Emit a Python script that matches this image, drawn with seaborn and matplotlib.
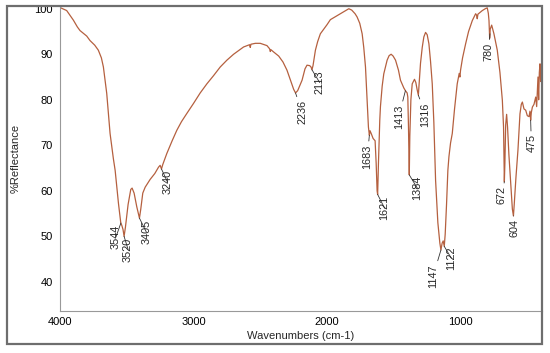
import numpy as np
import pandas as pd
import matplotlib
matplotlib.use("Agg")
import matplotlib.pyplot as plt
from matplotlib.patches import Rectangle
import seaborn as sns

# ---- data ----
wavenumber = [4000, 3995, 3950, 3900, 3870, 3850, 3800, 3775, 3740, 3713, 3690, 3675,
              3650, 3625, 3600, 3587, 3562, 3545, 3537, 3528, 3520, 3510, 3490, 3470,
              3460, 3445, 3425, 3405, 3395, 3380, 3362, 3325, 3290, 3262, 3250, 3240,
              3230, 3200, 3160, 3125, 3090, 3050, 3000, 2950, 2900, 2850, 2800, 2750,
              2700, 2625, 2580, 2575, 2570, 2537, 2500, 2450, 2430, 2425, 2420, 2400,
              2362, 2330, 2300, 2270, 2250, 2236, 2220, 2187, 2165, 2150, 2130, 2120,
              2113, 2105, 2087, 2070, 2050, 2000, 1975, 1900, 1860, 1837, 1815, 1790,
              1775, 1755, 1737, 1725, 1712, 1700, 1690, 1683, 1678, 1668, 1655, 1640,
              1632, 1625, 1621, 1615, 1605, 1600, 1587, 1575, 1550, 1535, 1520, 1505,
              1487, 1465, 1450, 1425, 1413, 1400, 1395, 1390, 1384, 1380, 1372, 1362,
              1345, 1335, 1325, 1316, 1310, 1300, 1287, 1275, 1262, 1250, 1237, 1225,
              1212, 1200, 1187, 1170, 1155, 1147, 1138, 1130, 1122, 1115, 1105, 1095,
              1087, 1075, 1062, 1045, 1025, 1010, 1005, 1000, 985, 962, 940, 912,
              887, 880, 875, 870, 837, 815, 800, 792, 787, 782, 778, 767,
              750, 725, 705, 687, 678, 672, 668, 662, 655, 648, 638, 625,
              612, 604, 598, 585, 570, 555, 545, 537, 525, 512, 500, 487,
              480, 475, 470, 462, 450, 437, 430, 425, 420, 415, 410, 405,
              400, 395, 390]
reflectance = [100.3, 100.2, 99.6, 97.5, 96.0, 95.2, 94.0, 93.0, 92.0, 90.9, 89.2, 87.2,
               81.4, 72.6, 67.0, 64.5, 57.2, 53.0, 52.4, 51.5, 50.0, 52.0, 57.0, 60.3,
               60.6, 59.5, 56.5, 54.0, 56.0, 59.5, 60.8, 62.5, 63.8, 65.2, 65.6, 64.8,
               65.8, 68.2, 71.0, 73.3, 75.2, 77.0, 79.2, 81.5, 83.5, 85.3, 87.2, 88.7,
               90.0, 91.6, 92.1, 91.5, 92.2, 92.4, 92.4, 91.9, 91.2, 90.6, 91.0, 90.5,
               89.6, 88.3, 86.5, 84.0, 82.3, 81.5, 82.0, 84.3, 86.8, 87.6, 87.5, 87.2,
               86.6, 87.5, 90.9, 92.8, 94.5, 96.5, 97.6, 98.9, 99.6, 100.0, 99.7, 98.9,
               98.2, 96.8, 94.5, 91.5, 87.2, 79.9, 74.0, 72.2, 73.2, 72.5, 71.5, 71.0,
               66.0, 60.0, 59.2, 66.0, 75.5, 78.5, 83.0, 85.7, 88.7, 89.7, 90.0, 89.6,
               88.7, 86.5, 84.3, 82.6, 82.0, 81.5, 80.6, 74.0, 63.5, 72.0, 80.0, 83.5,
               84.5, 83.8, 82.2, 81.0, 83.5, 88.0, 91.5, 93.8, 94.8, 94.3, 92.3, 88.5,
               83.5, 75.0, 62.3, 53.0, 48.5, 47.0, 48.5, 49.0, 47.8, 50.5, 57.0, 64.5,
               67.5, 70.5, 72.6, 78.0, 83.5, 85.8, 85.0, 86.5, 89.2, 92.3, 95.0, 97.4,
               98.9, 98.6, 97.8, 98.8, 99.6, 100.0, 100.2, 99.0, 97.4, 93.5, 95.5, 96.4,
               94.5, 90.9, 86.0, 79.9, 74.0, 62.0, 66.0, 74.5, 76.8, 74.0, 68.0, 62.0,
               56.0, 54.5, 57.0, 63.0, 69.0, 76.9, 79.0, 79.5, 78.0, 77.7, 76.5, 76.3,
               77.5, 75.5, 77.2, 78.4, 79.0, 80.6, 78.5, 82.0, 85.0, 80.0, 86.0, 87.9,
               84.0, 86.5, 82.5]

peak_labels = [3544, 3520, 3405, 3240, 2236, 2113, 1683, 1621, 1413, 1384, 1316,
               1147, 1122, 780, 672, 604, 475]
# label text offsets from each peak (pixels: right, down) - layout only
label_dx = [-5, 4, 7, 6, 6.5, 7.7, -2, 7, -6.6, 8, 7, -7.7, 7, -1.6, -2.6, 1.5, 0.7]
label_dy = [2, 1, 2, 1, 7, 1, 9, 1.7, 13.7, 1, 7, 14, 0, 9, 4.6, 3.4, 14]

x_ticks = [4000, 3000, 2000, 1000]
y_ticks = [40, 50, 60, 70, 80, 90, 100]

# ---- figure ----
sns.set_style("white")
plt.rcParams["font.family"] = ["Liberation Sans", "DejaVu Sans"]

W, H = 550, 353
fig = plt.figure(figsize=(W / 100, H / 100), dpi=100)
ax = fig.add_axes([60 / W, 1 - 311 / H, (542 - 60) / W, (311 - 6) / H])

df = pd.DataFrame({"wn": wavenumber, "R": reflectance})
sns.lineplot(data=df, x="wn", y="R", ax=ax, color="#b5603f", linewidth=0.9,
             sort=False, estimator=None)

ax.set_xlim(4000, 390)
ax.set_ylim(33.6, 100.6)
ax.set_xticks(x_ticks)
ax.set_yticks(y_ticks)
ax.set_xticks(np.arange(3800, 390, -200), minor=True)
ax.set_yticks(np.arange(34, 101, 2), minor=True)
ax.tick_params(axis="x", which="both", direction="in", labelsize=8, colors="#888888",
               labelcolor="black", pad=4)
ax.tick_params(axis="x", which="major", length=3)
ax.tick_params(axis="x", which="minor", length=2)
ax.tick_params(axis="y", which="both", direction="out", labelsize=8, colors="#888888",
               labelcolor="black", pad=2)
ax.tick_params(axis="y", which="major", length=3)
ax.tick_params(axis="y", which="minor", length=1.5)

ax.set_xlabel("Wavenumbers (cm-1)", fontsize=8, labelpad=3)
ax.set_ylabel("%Reflectance", fontsize=8, labelpad=10)

for s in ["top", "right"]:
    ax.spines[s].set_visible(False)
for s in ["left", "bottom"]:
    ax.spines[s].set_color("#999999")
    ax.spines[s].set_linewidth(0.8)

# peak annotations
wn_inc = np.array(wavenumber[::-1], dtype=float)
r_inc = np.array(reflectance[::-1], dtype=float)
for lab, dx, dy in zip(peak_labels, label_dx, label_dy):
    yv = np.interp(lab, wn_inc, r_inc)
    ax.annotate(str(lab), xy=(lab, yv), xytext=(dx * 0.72, -dy * 0.72),
                textcoords="offset points", rotation=90, ha="center", va="top",
                fontsize=7.8,
                arrowprops=dict(arrowstyle="-", color="#333333", lw=0.6,
                                shrinkA=0, shrinkB=0))

# outer frame
fig.patches.append(Rectangle((7 / W, 1 - 344 / H), (542 - 7) / W, (344 - 6) / H,
                             transform=fig.transFigure, fill=False,
                             edgecolor="#6e6e6e", linewidth=1.6))

fig.savefig("out.png", dpi=100)
